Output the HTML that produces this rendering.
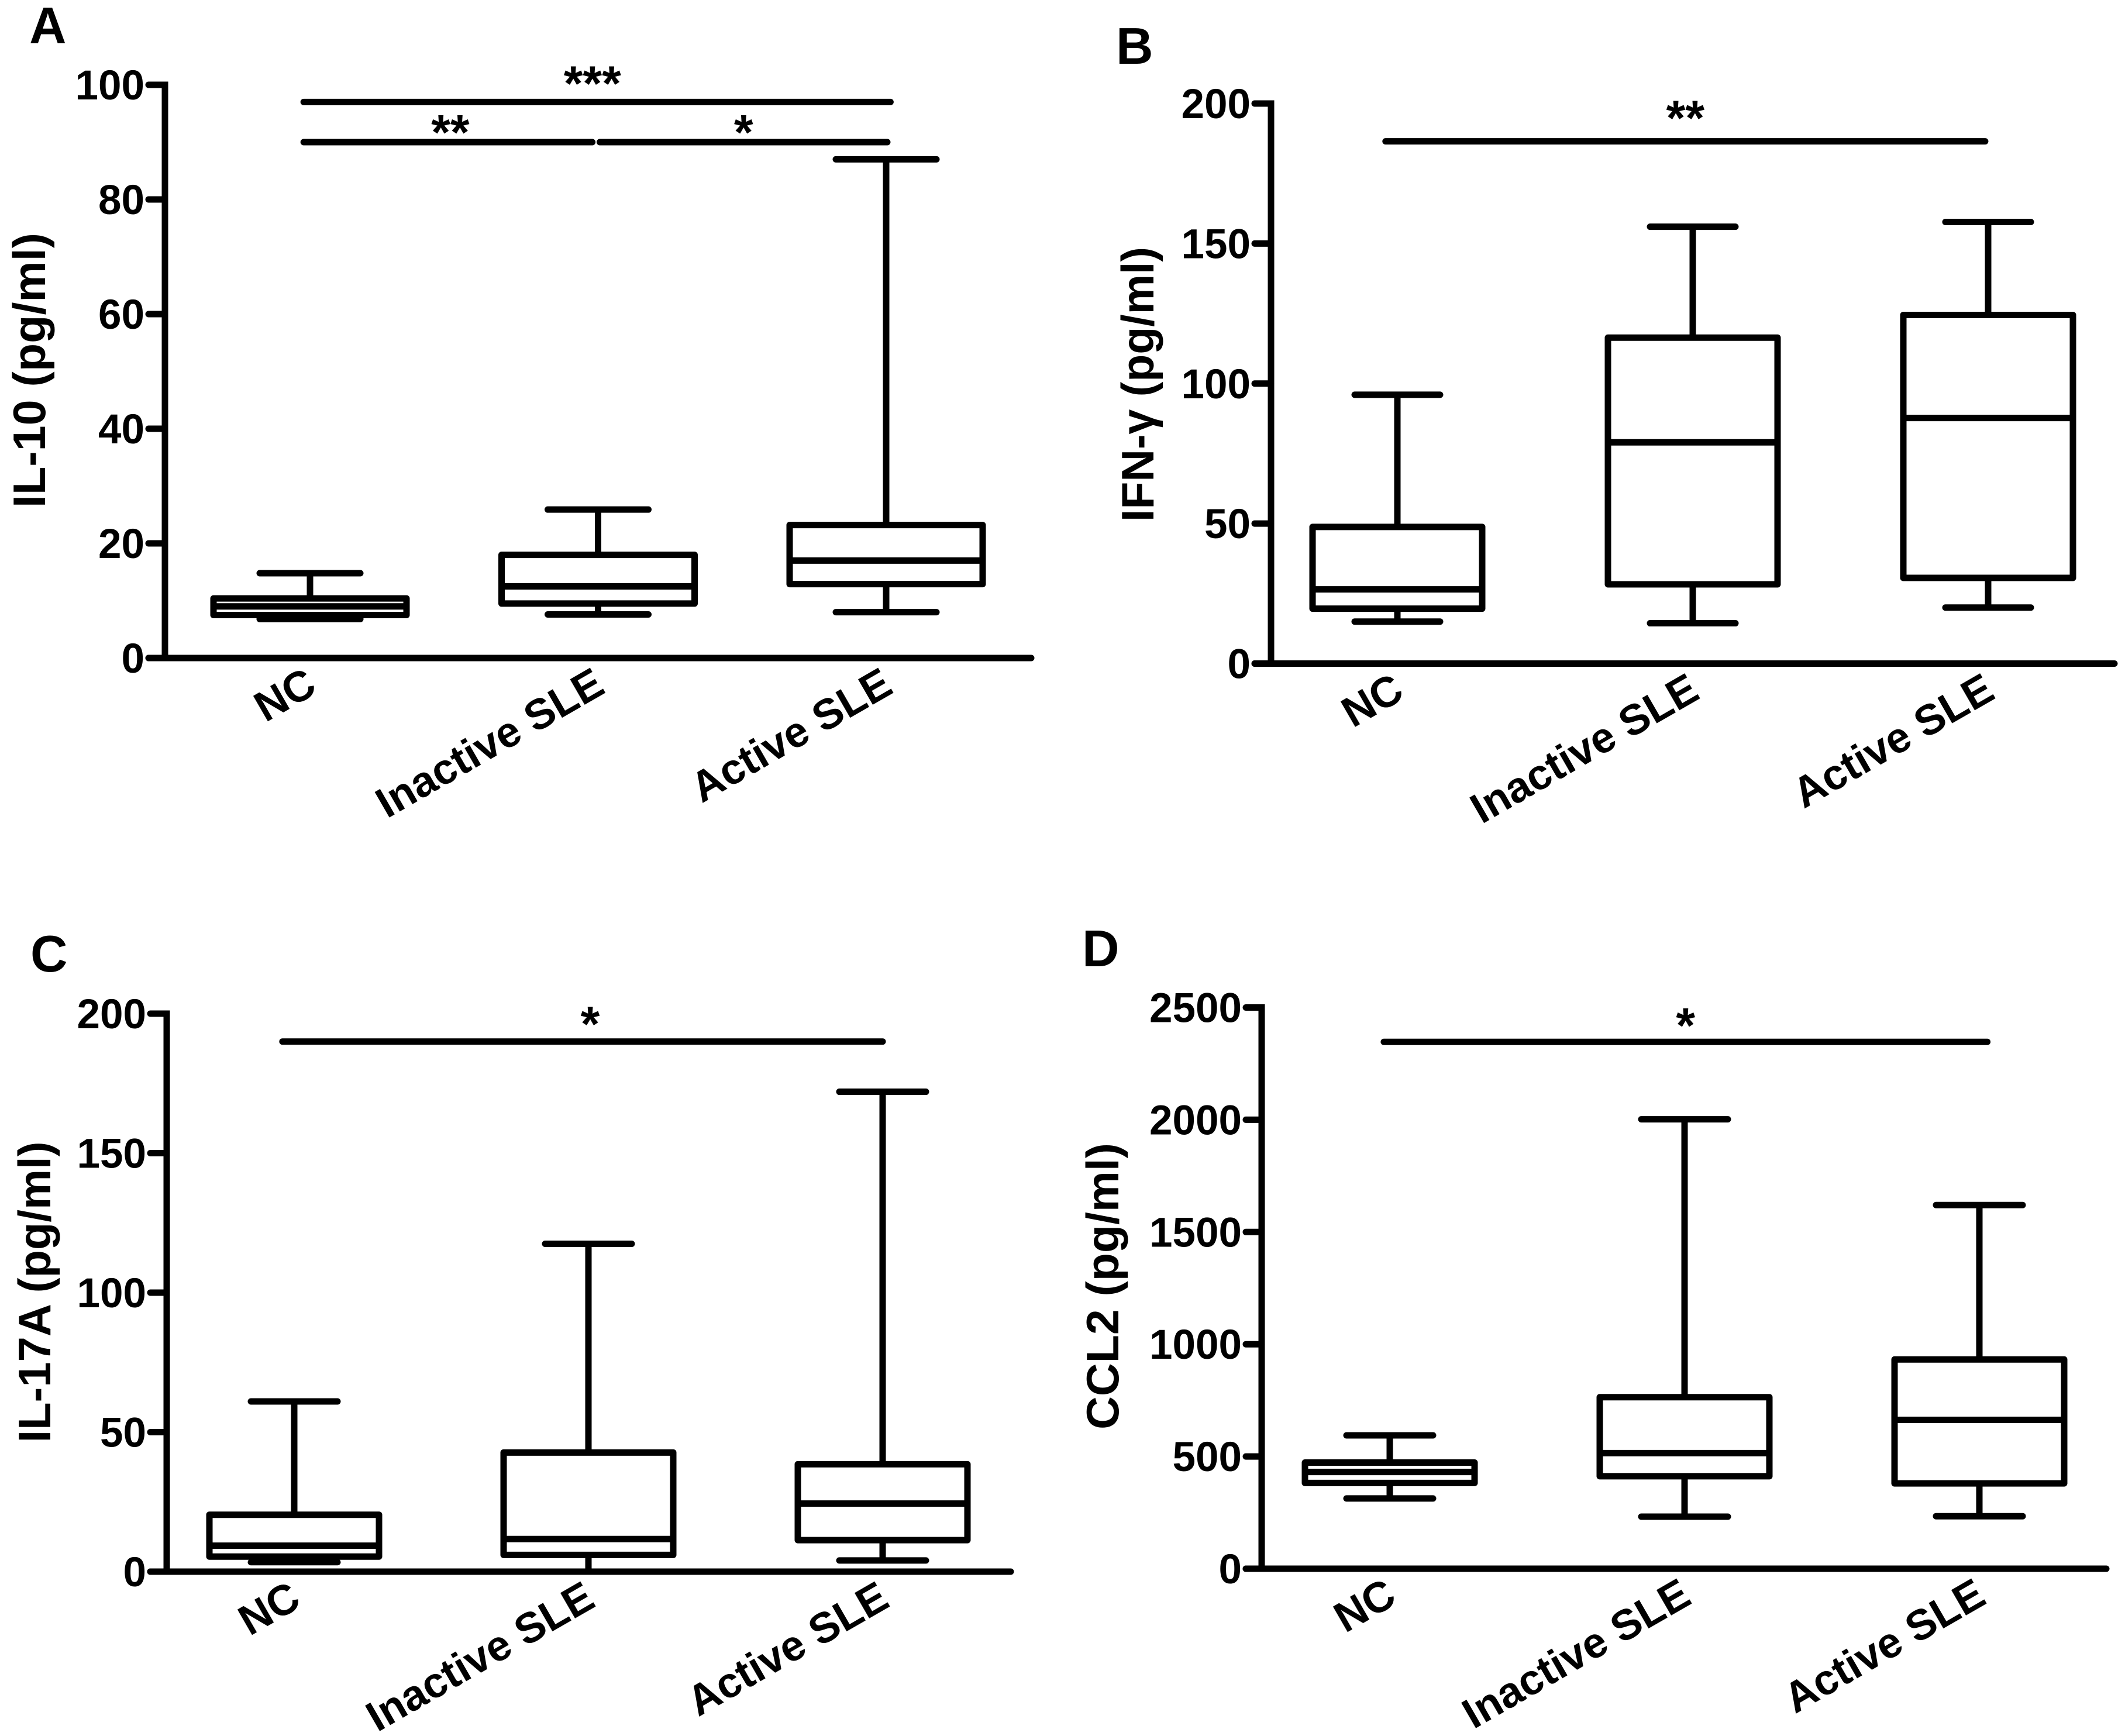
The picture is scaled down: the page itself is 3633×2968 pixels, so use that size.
<!DOCTYPE html>
<html lang="en">
<head>
<meta charset="utf-8">
<title>Cytokine box plots</title>
<style>
html,body{margin:0;padding:0;background:#fff;}
svg{display:block;}
text{font-family:"Liberation Sans",Arial,sans-serif;font-weight:bold;fill:#000;}
</style>
</head>
<body>
<svg id="figure" xmlns="http://www.w3.org/2000/svg" width="3633" height="2968" viewBox="0 0 3633 2968">
<rect width="3633" height="2968" fill="#fff"/>
</svg>
<script>
const categories = ['NC', 'Inactive SLE', 'Active SLE'];

const ticksA = [0, 20, 40, 60, 80, 100];
const hiA = [14.8, 25.9, 87];
const q3A = [10.4, 18, 23.2];
const medA = [9, 12.5, 17];
const q1A = [7.5, 9.5, 12.9];
const loA = [6.8, 7.6, 8];
const sigFromA = [-0.022, -0.022, 1.006];
const sigToA = [2.015, 0.98, 2.004];
const sigValueA = [97, 90, 90];
const sigLabelA = ['***', '**', '*'];

const ticksB = [0, 50, 100, 150, 200];
const hiB = [96, 156, 157.7];
const q3B = [48.8, 116.4, 124.5];
const medB = [26.5, 79, 87.7];
const q1B = [19.6, 28.3, 30.6];
const loB = [15, 14.4, 20];
const sigFromB = [-0.04];
const sigToB = [1.99];
const sigValueB = [186.5];
const sigLabelB = ['**'];

const ticksC = [0, 50, 100, 150, 200];
const hiC = [61, 117.5, 172];
const q3C = [20.4, 42.7, 38.5];
const medC = [9.3, 11.7, 24.4];
const q1C = [5.4, 6, 11.3];
const loC = [3.4, 0, 4];
const sigFromC = [-0.04];
const sigToC = [2.0];
const sigValueC = [190];
const sigLabelC = ['*'];

const ticksD = [0, 500, 1000, 1500, 2000, 2500];
const hiD = [594, 2002, 1620];
const q3D = [473, 764, 932];
const medD = [431, 515, 663];
const q1D = [382, 412, 380];
const loD = [313, 232, 234];
const sigFromD = [-0.02];
const sigToD = [2.027];
const sigValueD = [2347];
const sigLabelD = ['*'];

const NS = 'http://www.w3.org/2000/svg';
const root = document.getElementById('figure');

function mk(parent, tag, attrs) {
  const el = document.createElementNS(NS, tag);
  for (const k in attrs) el.setAttribute(k, attrs[k]);
  parent.appendChild(el);
  return el;
}

function drawPanel(p) {
  const g = mk(root, 'g', {});
  
  

  const yScale = v => p.y0 + (p.yTop - p.y0) * v / p.yMax;
  const xScale = i => p.center0 + p.step * i;
  const lw = 11;

  const letter = mk(g, 'text', {x: p.letterX, y: p.letterY, 'font-size': 88});
  
  
  letter.textContent = p.id;

  const yAxis = mk(g, 'line', {x1: p.axisX, x2: p.axisX, y1: yScale(p.yMax) - lw / 2, y2: p.y0 + lw / 2, stroke: '#000', 'stroke-width': lw});
  
  

  const xAxis = mk(g, 'line', {x1: p.tickStart, x2: p.xEnd, y1: p.y0, y2: p.y0, stroke: '#000', 'stroke-width': lw, 'stroke-linecap': 'round'});
  
  

  p.ticks.forEach(v => {
    const t = mk(g, 'line', {x1: p.tickStart, x2: p.axisX, y1: yScale(v), y2: yScale(v), stroke: '#000', 'stroke-width': lw, 'stroke-linecap': 'round'});
    
    
    const l = mk(g, 'text', {x: p.tickStart - 7, y: yScale(v) + 25, 'text-anchor': 'end', 'font-size': 71});
    
    
    l.textContent = v;
  });

  const title = mk(g, 'text', {transform: 'translate(' + p.titleX + ',' + p.titleY + ') rotate(-90)', 'text-anchor': 'middle', 'font-size': 78, textLength: p.titleLen, lengthAdjust: 'spacingAndGlyphs'});
  
  
  title.textContent = p.title;

  categories.forEach((c, i) => {
    const cx = xScale(i);
    const box = mk(g, 'g', {});
    
    
    const stroke = {stroke: '#000', 'stroke-width': lw, fill: 'none'};
    const round = {stroke: '#000', 'stroke-width': lw, 'stroke-linecap': 'round'};
    mk(box, 'line', Object.assign({x1: cx, x2: cx, y1: yScale(p.hi[i]), y2: yScale(p.q3[i])}, stroke));
    mk(box, 'line', Object.assign({x1: cx, x2: cx, y1: yScale(p.q1[i]), y2: yScale(p.lo[i])}, stroke));
    if (p.lo[i] > 0) {
      mk(box, 'line', Object.assign({x1: cx - p.capHalf, x2: cx + p.capHalf, y1: yScale(p.lo[i]), y2: yScale(p.lo[i])}, round));
    }
    mk(box, 'line', Object.assign({x1: cx - p.capHalf, x2: cx + p.capHalf, y1: yScale(p.hi[i]), y2: yScale(p.hi[i])}, round));
    mk(box, 'rect', Object.assign({x: cx - p.boxHalf, y: yScale(p.q3[i]), width: p.boxHalf * 2, height: yScale(p.q1[i]) - yScale(p.q3[i]), 'stroke-linejoin': 'round'}, stroke));
    mk(box, 'line', Object.assign({x1: cx - p.boxHalf, x2: cx + p.boxHalf, y1: yScale(p.med[i]), y2: yScale(p.med[i])}, stroke));

    const lab = mk(g, 'text', {transform: 'translate(' + (cx + 15) + ',' + (p.y0 + 58) + ') rotate(-30)', 'text-anchor': 'end', 'font-size': 73});
    
    
    lab.textContent = c;
  });

  p.sigValue.forEach((v, i) => {
    const x1 = xScale(p.sigFrom[i]);
    const x2 = xScale(p.sigTo[i]);
    const y = yScale(v);
    const bar = mk(g, 'line', {x1: x1, x2: x2, y1: y, y2: y, stroke: '#000', 'stroke-width': lw, 'stroke-linecap': 'round'});
    
    
    const star = mk(g, 'text', {x: (x1 + x2) / 2 + p.starDx[i], y: y + p.starDy[i], 'text-anchor': 'middle', 'font-size': 84});
    
    
    star.textContent = p.sigLabel[i];
  });
}

drawPanel({id: 'A', title: 'IL-10 (pg/ml)', titleX: 77, titleY: 633, titleLen: 470, letterX: 50, letterY: 74,
  axisX: 282, y0: 1125, yTop: 145, yMax: 100, xEnd: 1763, tickStart: 254, center0: 530, step: 492.5, boxHalf: 165, capHalf: 86, starDx: [-8, 4, 0], starDy: [-3, 12, 12],
  ticks: ticksA, hi: hiA, q3: q3A, med: medA, q1: q1A, lo: loA, sigFrom: sigFromA, sigTo: sigToA, sigValue: sigValueA, sigLabel: sigLabelA});

drawPanel({id: 'B', title: 'IFN-\u03B3 (pg/ml)', titleX: 1972, titleY: 657, titleLen: 470, letterX: 1908, letterY: 109,
  axisX: 2173, y0: 1134.5, yTop: 177, yMax: 200, xEnd: 3615, tickStart: 2145, center0: 2389, step: 505, boxHalf: 145, capHalf: 73, starDx: [0], starDy: [-11],
  ticks: ticksB, hi: hiB, q3: q3B, med: medB, q1: q1B, lo: loB, sigFrom: sigFromB, sigTo: sigToB, sigValue: sigValueB, sigLabel: sigLabelB});

drawPanel({id: 'C', title: 'IL-17A (pg/ml)', titleX: 86, titleY: 2209, titleLen: 515, letterX: 52, letterY: 1661,
  axisX: 285, y0: 2687, yTop: 1733, yMax: 200, xEnd: 1728, tickStart: 257, center0: 503, step: 503, boxHalf: 145, capHalf: 74, starDx: [13], starDy: [-1],
  ticks: ticksC, hi: hiC, q3: q3C, med: medC, q1: q1C, lo: loC, sigFrom: sigFromC, sigTo: sigToC, sigValue: sigValueC, sigLabel: sigLabelC});

drawPanel({id: 'D', title: 'CCL2 (pg/ml)', titleX: 1912, titleY: 2199, titleLen: 490, letterX: 1850, letterY: 1652,
  axisX: 2157, y0: 2682, yTop: 1722.5, yMax: 2500, xEnd: 3601, tickStart: 2130, center0: 2376, step: 504, boxHalf: 145, capHalf: 74, starDx: [0], starDy: [1],
  ticks: ticksD, hi: hiD, q3: q3D, med: medD, q1: q1D, lo: loD, sigFrom: sigFromD, sigTo: sigToD, sigValue: sigValueD, sigLabel: sigLabelD});
</script>
</body>
</html>
